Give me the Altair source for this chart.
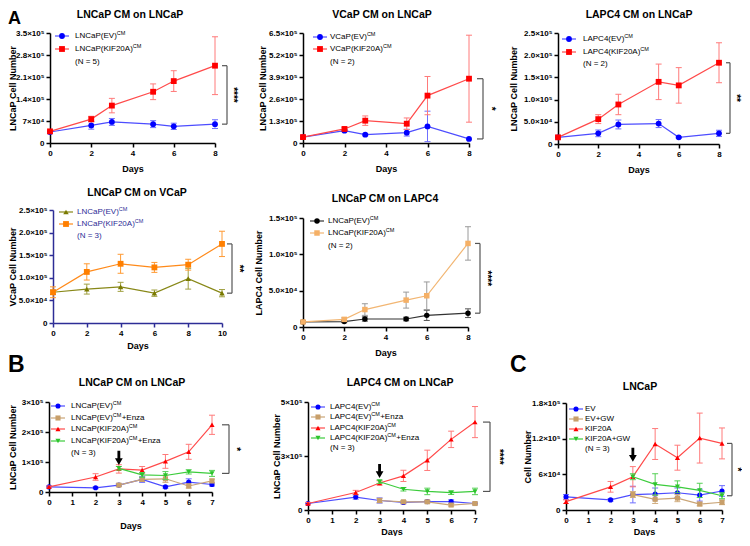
import altair as alt
import pandas as pd

FONT = "Liberation Sans"
W, H = 190, 120

# ---------------- data ----------------
# A1: LNCaP CM on LNCaP
a1_days = [0, 2, 3, 5, 6, 8]
a1_ev = [35000, 56000, 67000, 60000, 53000, 60000]
a1_ev_err = [4000, 12000, 11000, 11000, 10000, 14000]
a1_kif = [37000, 76000, 119000, 163000, 197000, 246000]
a1_kif_err = [4000, 9000, 23000, 25000, 33000, 92000]
a1_yticks = [0, 70000, 140000, 210000, 280000, 350000]
a1_ylabels = ["0", "7×10⁴", "1.4×10⁵", "2.1×10⁵", "2.8×10⁵", "3.5×10⁵"]

# A2: VCaP CM on LNCaP
a2_days = [0, 2, 3, 5, 6, 8]
a2_ev = [35000, 73000, 49000, 61000, 98000, 24000]
a2_ev_err = [4000, 6000, 6000, 20000, 90000, 4000]
a2_kif = [35000, 83000, 132000, 114000, 280000, 380000]
a2_kif_err = [4000, 9000, 28000, 34000, 113000, 257000]
a2_yticks = [0, 130000, 260000, 390000, 520000, 650000]
a2_ylabels = ["0", "1.3×10⁵", "2.6×10⁵", "3.9×10⁵", "5.2×10⁵", "6.5×10⁵"]

# A3: LAPC4 CM on LNCaP
a3_days = [0, 2, 3, 5, 6, 8]
a3_ev = [15000, 24000, 44000, 46000, 15000, 24000]
a3_ev_err = [3000, 7500, 10000, 9000, 2000, 7000]
a3_kif = [15000, 56000, 89000, 140000, 132000, 183000]
a3_kif_err = [3000, 10000, 23000, 40000, 40000, 45000]
a3_yticks = [0, 50000, 100000, 150000, 200000, 250000]
a3_ylabels = ["0", "5.0×10⁴", "1.0×10⁵", "1.5×10⁵", "2.0×10⁵", "2.5×10⁵"]

# A4: LNCaP CM on VCaP
a4_days = [0, 2, 4, 6, 8, 10]
a4_ev = [68000, 75000, 80000, 66000, 98000, 66000]
a4_ev_err = [5000, 11000, 10000, 7000, 23000, 8000]
a4_kif = [68000, 113000, 131000, 123000, 129000, 175000]
a4_kif_err = [12000, 18000, 21000, 11000, 12000, 28000]
a4_yticks = [0, 50000, 100000, 150000, 200000, 250000]
a4_ylabels = ["0", "5.0×10⁴", "1.0×10⁵", "1.5×10⁵", "2.0×10⁵", "2.5×10⁵"]

# A5: LNCaP CM on LAPC4
a5_days = [0, 2, 3, 5, 6, 8]
a5_ev = [7000, 7500, 11000, 11000, 16000, 19000]
a5_ev_err = [1500, 1500, 3000, 2500, 7000, 6000]
a5_kif = [7000, 10500, 24000, 37000, 43000, 115000]
a5_kif_err = [1500, 2000, 8000, 11000, 19000, 23000]
a5_yticks = [0, 50000, 100000, 150000]
a5_ylabels = ["0", "5.0×10⁴", "1.0×10⁵", "1.5×10⁵"]

# B / C shared day grids
b_days = [0, 2, 3, 4, 5, 6, 7]
b_days_tx = [3, 4, 5, 6, 7]

# B1: LNCaP CM on LNCaP (+Enza)
b1_ev = [17000, 14000, 23000, 42000, 17000, 33000, 25000]
b1_ev_err = [3000, 3000, 4000, 10000, 4000, 11000, 5000]
b1_ev_enza = [23000, 42000, 44000, 20000, 37000]
b1_ev_enza_err = [4000, 7000, 12000, 7000, 6000]
b1_kif = [17000, 50000, 77000, 73000, 102000, 134000, 224000]
b1_kif_err = [3000, 11000, 14000, 12000, 23000, 25000, 32000]
b1_kif_enza = [79000, 57000, 55000, 67000, 62000]
b1_kif_enza_err = [6000, 8000, 13000, 7000, 10000]
b1_yticks = [0, 100000, 200000, 300000]
b1_ylabels = ["0", "1×10⁵", "2×10⁵", "3×10⁵"]

# B2: LAPC4 CM on LNCaP (+Enza)
b2_ev = [30000, 60000, 44000, 35000, 39000, 39000, 30000]
b2_ev_err = [5000, 10000, 12000, 6000, 6000, 8000, 6000]
b2_ev_enza = [44000, 38000, 38000, 23000, 30000]
b2_ev_enza_err = [10000, 6000, 6000, 5000, 5000]
b2_kif = [30000, 81000, 125000, 158000, 230000, 327000, 407000]
b2_kif_err = [5000, 10000, 10000, 26000, 47000, 38000, 72000]
b2_kif_enza = [131000, 96000, 86000, 80000, 86000]
b2_kif_enza_err = [8000, 8000, 15000, 8000, 15000]
b2_yticks = [0, 250000, 500000]
b2_ylabels = ["0", "3×10⁵", "5×10⁵"]

# C: LNCaP (+GW)
c_ev = [22000, 17000, 26000, 27000, 29000, 25000, 32000]
c_ev_err = [4000, 2000, 14000, 10000, 8000, 10000, 9000]
c_ev_gw = [26000, 18000, 20000, 10000, 13000]
c_ev_gw_err = [5000, 7000, 6000, 3000, 4000]
c_kif = [14000, 39000, 56000, 111000, 88000, 121000, 112000]
c_kif_err = [3000, 9000, 17000, 26000, 21000, 42000, 26000]
c_kif_gw = [56000, 43000, 39000, 33000, 24000]
c_kif_gw_err = [5000, 18000, 10000, 12000, 5000]
c_yticks = [0, 60000, 120000, 180000]
c_ylabels = ["0", "6×10⁴", "1.2×10⁵", "1.8×10⁵"]

x8_ticks = [0, 2, 4, 6, 8]
x10_ticks = [0, 2, 4, 6, 8, 10]
x7_ticks = [0, 1, 2, 3, 4, 5, 6, 7]

# ---------------- styling ----------------
BLUE = ("#0000ff", "#4d4dff", "#6f6fff")
RED = ("#ff0000", "#ff4a4a", "#ff7a7a")
OLIVE = ("#7a7a00", "#888818", "#a0a040")
ORANGE = ("#ff7f00", "#ff8a1a", "#ff9a33")
BLACK = ("#000000", "#333333", "#555555")
LORANGE = ("#f5b066", "#f2b673", "#9a9a9a")
TAN = ("#c89f6a", "#caa577", "#d0ad80")
GREEN = ("#2cc52c", "#3ccc3c", "#55d055")

ARROW = "M-0.2,-1 L0.2,-1 L0.2,0.05 L0.55,0.05 L0,1 L-0.55,0.05 L-0.2,0.05 Z"

AW = {"L": 556, "N": 722, "C": 722, "a": 556, "P": 667, "(": 333, ")": 333,
      "E": 667, "V": 667, "K": 667, "I": 278, "F": 611, "2": 556, "0": 556,
      "A": 667, "4": 556, "+": 584, "n": 556, "z": 500, "M": 833, " ": 278,
      "G": 778, "W": 944}


def tw(s, size):
    return sum(AW.get(ch, 556) for ch in s) * size / 1000.0


def lab_expr(vals, labels):
    expr = "''"
    for v, l in reversed(list(zip(vals, labels))):
        expr = f"datum.value == {v} ? '{l}' : ({expr})"
    return expr


one = pd.DataFrame({"k": [0]})


def sdf(days, vals, errs):
    return pd.DataFrame({"day": days, "val": vals,
                         "lo": [v - e for v, e in zip(vals, errs)],
                         "hi": [v + e for v, e in zip(vals, errs)]})


def ser(days, vals, errs, col, shape, size=32):
    return dict(days=days, vals=vals, errs=errs, pcol=col[0], lcol=col[1],
                ecol=col[2], shape=shape, size=size)


def txt(text, x, y, size=8, bold=False, color="black", align="left", baseline="middle"):
    return alt.Chart(one).mark_text(
        text=text, font=FONT, fontSize=size, fontWeight="bold" if bold else "normal",
        color=color, align=align, baseline=baseline).encode(x=alt.value(x), y=alt.value(y))


def build_panel(p):
    xs = alt.Scale(domain=p["xdom"], range=[p["xl"], p["xr"]], nice=False, zero=False)
    ys = alt.Scale(domain=p["ydom"], range=[p["yb"], p["yt"]], nice=False, zero=False)
    axc = p.get("axcolor", "black")
    xax = alt.Axis(values=p["xticks"], format="d", title="Days",
                   offset=-(H - p["yb"]), titleY=p["xtitleY"], titleBaseline="middle",
                   domainColor=axc, tickColor=axc, labelFlush=False, labelOverlap=False)
    yax = alt.Axis(values=p["yticks"], labelExpr=lab_expr(p["yticks"], p["ylabels"]),
                   title=p["ytitle"], offset=-p["xl"], titleX=p["ytitleX"],
                   titleBaseline="middle", domainColor=axc, tickColor=axc,
                   labelFlush=False, labelOverlap=False)

    def X(f):
        return alt.X(f"{f}:Q", scale=xs, axis=xax, title="Days")

    def Y(f):
        return alt.Y(f"{f}:Q", scale=ys, axis=yax, title=p["ytitle"])

    layers = []
    for s in p["series"]:
        d = alt.Chart(sdf(s["days"], s["vals"], s["errs"]))
        layers.append(d.mark_rule(color=s["ecol"], strokeWidth=1).encode(
            x=X("day"), y=Y("lo"), y2=alt.Y2("hi")))
        for f in ("lo", "hi"):
            layers.append(d.mark_rule(color=s["ecol"], strokeWidth=1, xOffset=-3, x2Offset=3).encode(
                x=X("day"), x2=alt.X2("day"), y=Y(f)))
        layers.append(d.mark_line(color=s["lcol"], strokeWidth=1.2).encode(x=X("day"), y=Y("val")))
        layers.append(d.mark_point(shape=s["shape"], filled=True, color=s["pcol"],
                                   size=s["size"], opacity=1).encode(x=X("day"), y=Y("val")))

    # significance bracket between the last points of two series
    top_s, bot_s = p["bracket"]
    xl_ = top_s["days"][-1]
    tv, bv = top_s["vals"][-1], bot_s["vals"][-1]
    bd = alt.Chart(pd.DataFrame({"x": [xl_], "top": [tv], "bot": [bv], "mid": [(tv + bv) / 2]}))
    b1, b2 = p["boff"]
    layers.append(bd.mark_rule(color="#555555", strokeWidth=1.2, xOffset=b2).encode(
        x=X("x"), y=Y("top"), y2=alt.Y2("bot")))
    for f in ("top", "bot"):
        layers.append(bd.mark_rule(color="#555555", strokeWidth=1.2, xOffset=b1, x2Offset=b2).encode(
            x=X("x"), x2=alt.X2("x"), y=Y(f)))
    layers.append(bd.mark_text(text=p["stars"], angle=90, font=FONT, fontSize=10, fontWeight="bold",
                               xOffset=p["soff"], align="center", baseline="middle").encode(
        x=X("x"), y=Y("mid")))

    # arrow at day 3 (treatment start)
    if p.get("arrow") is not None:
        s = p["arrow_series"]
        i = s["days"].index(3)
        ad = alt.Chart(pd.DataFrame({"x": [3], "v": [s["vals"][i]]}))
        layers.append(ad.mark_point(shape=ARROW, filled=True, color="black", size=200, opacity=1,
                                    yOffset=p["arrow"]).encode(x=X("x"), y=Y("v")))

    # legend (manual, GraphPad style)
    lx, ly = p["xl"], p["yt"]
    tcol = p.get("legcolor", "black")
    for (main, sup, suffix, s), ry in zip(p["legend"], p["lrows"]):
        y = ly + ry
        mx = lx + p["lmark"]
        layers.append(alt.Chart(one).mark_rule(color=s["lcol"], strokeWidth=1.2).encode(
            x=alt.value(mx - 7), x2=alt.value(mx + 7), y=alt.value(y)))
        layers.append(alt.Chart(one).mark_point(shape=s["shape"], filled=True, color=s["pcol"],
                                                size=s["size"], opacity=1).encode(
            x=alt.value(mx), y=alt.value(y)))
        tx = lx + p["ltext"]
        layers.append(txt(main, tx, y, 8, color=tcol))
        if sup:
            sx = tx + tw(main, 8)
            layers.append(txt(sup, sx, y - 3.5, 5.5, color=tcol))
            if suffix:
                layers.append(txt(suffix, sx + tw(sup, 5.5) + 0.3, y, 8, color=tcol))
    layers.append(txt(p["ntext"], lx + p["ltext"], ly + p["nrow"], 8, color=tcol))

    # panel title and letter
    layers.append(txt(p["title"], p["tpos"][0], p["tpos"][1], 10.5, bold=True, align="center"))
    if p.get("letter"):
        layers.append(txt(p["letter"], p["lpos"][0], p["lpos"][1], p.get("lsize", 23), bold=True,
                          align="left", baseline="alphabetic"))
    return alt.layer(*layers).properties(width=W, height=H)


# ---------------- panels ----------------
s_a1_ev = ser(a1_days, a1_ev, a1_ev_err, BLUE, "circle", 34)
s_a1_kif = ser(a1_days, a1_kif, a1_kif_err, RED, "square", 34)
A1 = build_panel(dict(
    series=[s_a1_ev, s_a1_kif], xdom=[0, 8], ydom=[0, 350000], xl=8, xr=173, yt=8, yb=118,
    xticks=x8_ticks, yticks=a1_yticks, ylabels=a1_ylabels, ytitle="LNCaP Cell Number",
    ytitleX=-37.5, xtitleY=25, bracket=(s_a1_kif, s_a1_ev), boff=(7, 12), soff=18, stars="****",
    legend=[("LNCaP(EV)", "CM", "", s_a1_ev), ("LNCaP(KIF20A)", "CM", "", s_a1_kif)],
    lrows=[3, 16], nrow=29, lmark=12, ltext=25, ntext="(N = 5)",
    title="LNCaP CM on LNCaP", tpos=(88, -10), letter="A", lpos=(-34, -0.6), lsize=18))

s_a2_ev = ser(a2_days, a2_ev, a2_ev_err, BLUE, "circle", 34)
s_a2_kif = ser(a2_days, a2_kif, a2_kif_err, RED, "square", 34)
A2 = build_panel(dict(
    series=[s_a2_ev, s_a2_kif], xdom=[0, 8], ydom=[0, 650000], xl=7, xr=173, yt=8, yb=118,
    xticks=x8_ticks, yticks=a2_yticks, ylabels=a2_ylabels, ytitle="LNCaP Cell Number",
    ytitleX=-41, xtitleY=25, bracket=(s_a2_kif, s_a2_ev), boff=(8, 14), soff=22, stars="*",
    legend=[("VCaP(EV)", "CM", "", s_a2_ev), ("VCaP(KIF20A)", "CM", "", s_a2_kif)],
    lrows=[4, 16], nrow=29, lmark=17, ltext=27, ntext="(N = 2)",
    title="VCaP CM on LNCaP", tpos=(86, -10)))

s_a3_ev = ser(a3_days, a3_ev, a3_ev_err, BLUE, "circle", 34)
s_a3_kif = ser(a3_days, a3_kif, a3_kif_err, RED, "square", 34)
A3 = build_panel(dict(
    series=[s_a3_ev, s_a3_kif], xdom=[0, 8], ydom=[0, 250000], xl=8, xr=169, yt=8, yb=119,
    xticks=x8_ticks, yticks=a3_yticks, ylabels=a3_ylabels, ytitle="LNCaP Cell Number",
    ytitleX=-45, xtitleY=25, bracket=(s_a3_kif, s_a3_ev), boff=(7, 11), soff=17, stars="**",
    legend=[("LAPC4(EV)", "CM", "", s_a3_ev), ("LAPC4(KIF20A)", "CM", "", s_a3_kif)],
    lrows=[6, 19], nrow=31, lmark=11, ltext=25, ntext="(N = 2)",
    title="LAPC4 CM on LNCaP", tpos=(89, -10)))

s_a4_ev = ser(a4_days, a4_ev, a4_ev_err, OLIVE, "triangle-up", 30)
s_a4_kif = ser(a4_days, a4_kif, a4_kif_err, ORANGE, "square", 34)
A4 = build_panel(dict(
    series=[s_a4_ev, s_a4_kif], xdom=[0, 10], ydom=[0, 250000], xl=11, xr=180, yt=0, yb=113,
    xticks=x10_ticks, yticks=a4_yticks, ylabels=a4_ylabels, ytitle="VCaP Cell Number",
    ytitleX=-40.5, xtitleY=22, bracket=(s_a4_kif, s_a4_ev), boff=(5, 10), soff=17, stars="**",
    legend=[("LNCaP(EV)", "CM", "", s_a4_ev), ("LNCaP(KIF20A)", "CM", "", s_a4_kif)],
    lrows=[2, 14], nrow=26, lmark=13, ltext=24, ntext="(N = 3)", legcolor="#2d2d96",
    axcolor="#2d2d96", title="LNCaP CM on VCaP", tpos=(95, -17)))

s_a5_ev = ser(a5_days, a5_ev, a5_ev_err, BLACK, "circle", 30)
s_a5_kif = ser(a5_days, a5_kif, a5_kif_err, LORANGE, "square", 30)
A5 = build_panel(dict(
    series=[s_a5_ev, s_a5_kif], xdom=[0, 8], ydom=[0, 150000], xl=7, xr=172, yt=8, yb=117,
    xticks=x8_ticks, yticks=a5_yticks, ylabels=a5_ylabels, ytitle="LAPC4 Cell Number",
    ytitleX=-45, xtitleY=25, bracket=(s_a5_kif, s_a5_ev), boff=(7, 12), soff=19, stars="****",
    legend=[("LNCaP(EV)", "CM", "", s_a5_ev), ("LNCaP(KIF20A)", "CM", "", s_a5_kif)],
    lrows=[3, 15], nrow=28, lmark=14, ltext=25, ntext="(N = 2)",
    title="LNCaP CM on LAPC4", tpos=(89, -11)))

EMPTY = alt.Chart(one).mark_point(opacity=0).encode(
    x=alt.value(0), y=alt.value(0)).properties(width=W, height=H)

s_b1_ev = ser(b_days, b1_ev, b1_ev_err, BLUE, "circle", 26)
s_b1_eve = ser(b_days_tx, b1_ev_enza, b1_ev_enza_err, TAN, "square", 26)
s_b1_kif = ser(b_days, b1_kif, b1_kif_err, RED, "triangle-up", 26)
s_b1_kife = ser(b_days_tx, b1_kif_enza, b1_kif_enza_err, GREEN, "triangle-down", 26)
B1 = build_panel(dict(
    series=[s_b1_ev, s_b1_eve, s_b1_kif, s_b1_kife], xdom=[0, 7], ydom=[0, 300000],
    xl=7, xr=170, yt=7, yb=97, xticks=x7_ticks, yticks=b1_yticks, ylabels=b1_ylabels,
    ytitle="LNCaP Cell Number", ytitleX=-36.5, xtitleY=33, bracket=(s_b1_kif, s_b1_kife),
    boff=(10, 17), soff=24, stars="*", arrow=-11, arrow_series=s_b1_kif,
    legend=[("LNCaP(EV)", "CM", "", s_b1_ev), ("LNCaP(EV)", "CM", "+Enza", s_b1_eve),
            ("LNCaP(KIF20A)", "CM", "", s_b1_kif), ("LNCaP(KIF20A)", "CM", "+Enza", s_b1_kife)],
    lrows=[4, 16, 27, 39], nrow=51, lmark=9, ltext=22, ntext="(N = 3)",
    title="LNCaP CM on LNCaP", tpos=(90, -12), letter="B", lpos=(-34, -23)))

s_b2_ev = ser(b_days, b2_ev, b2_ev_err, BLUE, "circle", 26)
s_b2_eve = ser(b_days_tx, b2_ev_enza, b2_ev_enza_err, TAN, "square", 26)
s_b2_kif = ser(b_days, b2_kif, b2_kif_err, RED, "triangle-up", 26)
s_b2_kife = ser(b_days_tx, b2_kif_enza, b2_kif_enza_err, GREEN, "triangle-down", 26)
B2 = build_panel(dict(
    series=[s_b2_ev, s_b2_eve, s_b2_kif, s_b2_kife], xdom=[0, 7], ydom=[0, 500000],
    xl=12, xr=179, yt=7, yb=115, xticks=x7_ticks, yticks=b2_yticks, ylabels=b2_ylabels,
    ytitle="LNCaP Cell Number", ytitleX=-32, xtitleY=21, bracket=(s_b2_kif, s_b2_kife),
    boff=(8, 15), soff=24, stars="****", arrow=-12, arrow_series=s_b2_kif,
    legend=[("LAPC4(EV)", "CM", "", s_b2_ev), ("LAPC4(EV)", "CM", "+Enza", s_b2_eve),
            ("LAPC4(KIF20A)", "CM", "", s_b2_kif), ("LAPC4(KIF20A)", "CM", "+Enza", s_b2_kife)],
    lrows=[5, 15, 26, 36], nrow=46, lmark=10, ltext=22, ntext="(N = 3)",
    title="LAPC4 CM on LNCaP", tpos=(104, -12)))

s_c_ev = ser(b_days, c_ev, c_ev_err, BLUE, "circle", 26)
s_c_evg = ser(b_days_tx, c_ev_gw, c_ev_gw_err, TAN, "square", 26)
s_c_kif = ser(b_days, c_kif, c_kif_err, RED, "triangle-up", 26)
s_c_kifg = ser(b_days_tx, c_kif_gw, c_kif_gw_err, GREEN, "triangle-down", 26)
C = build_panel(dict(
    series=[s_c_ev, s_c_evg, s_c_kif, s_c_kifg], xdom=[0, 7], ydom=[0, 180000],
    xl=16, xr=172, yt=8, yb=115, xticks=x7_ticks, yticks=c_yticks, ylabels=c_ylabels,
    ytitle="Cell Number", ytitleX=-39, xtitleY=21, bracket=(s_c_kif, s_c_kifg),
    boff=(5, 10), soff=15, stars="*", arrow=-22, arrow_series=s_c_kif,
    legend=[("EV", "", "", s_c_ev), ("EV+GW", "", "", s_c_evg),
            ("KIF20A", "", "", s_c_kif), ("KIF20A+GW", "", "", s_c_kifg)],
    lrows=[6, 16, 26, 36], nrow=46, lmark=10, ltext=19, ntext="(N = 3)",
    title="LNCaP", tpos=(90, -8), letter="C", lpos=(-40, -23)))

chart = alt.concat(A1, A2, A3, A4, A5, EMPTY, B1, B2, C, columns=3,
                   spacing={"row": 65, "column": 64}, bounds="flush", align="all").properties(
    padding={"top": 2, "left": 0, "right": 0, "bottom": 0}
).configure_view(stroke=None).configure_axis(
    grid=False, labelFont=FONT, titleFont=FONT, labelFontSize=8, labelFontWeight="bold",
    titleFontSize=9, titleFontWeight="bold", labelColor="black", titleColor="black",
    domainWidth=1.5, tickWidth=1.5, tickSize=4, labelPadding=2)

chart.save("out.html", embed_options={"renderer": "svg", "actions": False})
